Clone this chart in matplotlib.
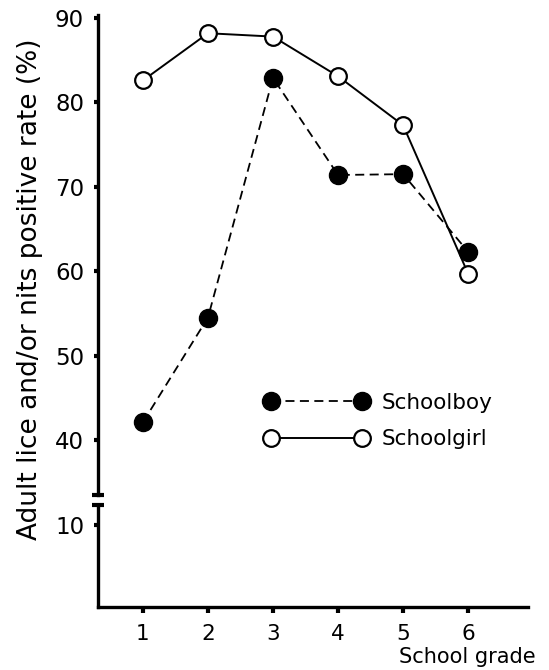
import matplotlib
matplotlib.use("Agg")
import matplotlib.pyplot as plt

grades = [1, 2, 3, 4, 5, 6]
schoolboy = [42.1, 54.5, 82.9, 71.4, 71.5, 62.3]
schoolgirl = [82.6, 88.2, 87.8, 83.1, 77.3, 59.7]
upper_ticks = [40, 50, 60, 70, 80, 90]
lower_ticks = [10]

plt.rcParams['font.family'] = ['DejaVu Sans']

fig = plt.figure(figsize=(5.49, 6.70), dpi=100)
left, width = 98 / 549, 430 / 549
ax_top = fig.add_axes([left, 175 / 670, width, 480 / 670])
ax_bot = fig.add_axes([left, 63 / 670, width, 102 / 670])

xlim = (0.31, 6.92)
for ax in (ax_top, ax_bot):
    ax.set_xlim(*xlim)
    for s in ('top', 'right'):
        ax.spines[s].set_visible(False)
    ax.spines['left'].set_linewidth(2.4)
    ax.spines['bottom'].set_linewidth(2.4)
    ax.tick_params(axis='both', length=3, width=3, direction='out',
                   labelsize=16.5, pad=7)

# upper part
ax_top.spines['bottom'].set_visible(False)
ax_top.set_xticks([])
ax_top.set_ylim(33.48, 90.36)
ax_top.set_yticks(upper_ticks)

ax_top.plot(grades, schoolboy, color='black', lw=1.3, dashes=(5, 3),
            marker='o', ms=13, mfc='black', mec='black', label='Schoolboy')
ax_top.plot(grades, schoolgirl, color='black', lw=1.4,
            marker='o', ms=12, mfc='white', mec='black', mew=1.6,
            label='Schoolgirl')

# lower part
ax_bot.set_ylim(0, 12.44)
ax_bot.set_yticks(lower_ticks)
ax_bot.set_xticks(grades)
ax_bot.tick_params(axis='x', labelsize=15.5, pad=8, length=4)

# break caps on the y spine
ax_top.plot([0], [0], marker='_', ms=9, mew=3, color='black',
            transform=ax_top.transAxes, clip_on=False)
ax_bot.plot([0], [1], marker='_', ms=9, mew=3, color='black',
            transform=ax_bot.transAxes, clip_on=False)

fig.text(0.055, 0.569, 'Adult lice and/or nits positive rate (%)',
         rotation=90, ha='center', va='center', fontsize=19)
fig.text(0.975, 0.019, 'School grade', ha='right', va='center', fontsize=15)

fig.legend(loc='center left', bbox_to_anchor=(265 / 549, 1 - 421 / 670),
           frameon=False, fontsize=15.5, handlelength=4.8, numpoints=2,
           handletextpad=0.6, labelspacing=0.75, borderpad=0,
           borderaxespad=0)

fig.savefig('out.png', dpi=100)
